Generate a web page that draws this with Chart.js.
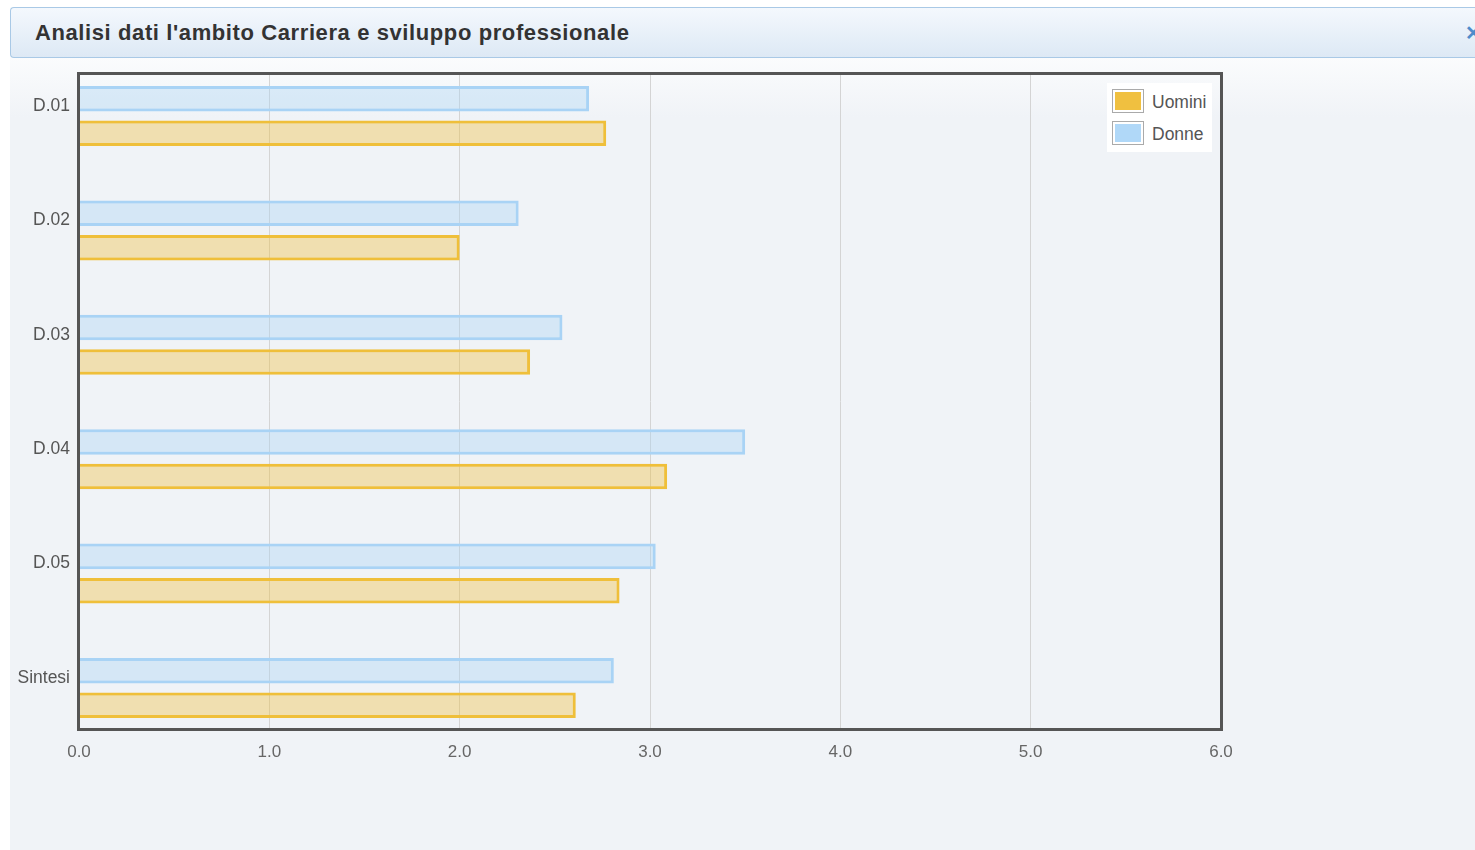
<!DOCTYPE html>
<html>
<head>
<meta charset="utf-8">
<script src="https://cdn.jsdelivr.net/npm/chart.js@4"></script>
<style>
  body { margin: 0; width: 1475px; height: 850px; overflow: hidden; background: #fff; position: relative; font-family: "Liberation Sans", Arial, sans-serif; }
  #panel { position: absolute; left: 10px; top: 7px; width: 1465px; height: 843px; background: linear-gradient(#fbfcfd 50px, #f0f3f7 110px); }
  #titlebar { position: absolute; left: 10px; top: 7px; width: 1465px; height: 49px; background: linear-gradient(#f4f8fd, #dde9f5); border: 1px solid #a9c9e6; border-right: none; border-radius: 4px 0 0 4px; }
  #title { position: absolute; left: 24px; top: 12px; font-size: 22px; font-weight: bold; letter-spacing: 0.6px; color: #333; }
  #close { position: absolute; left: 1454px; top: 13px; font-size: 20px; font-weight: bold; color: #4f8ccb; }
  #chart { position: absolute; left: 0; top: 0; }
  #frame { position: absolute; left: 77px; top: 72px; width: 1140px; height: 653px; border: 3px solid #555; pointer-events: none; }
  #legend { position: absolute; left: 1107px; top: 83px; width: 105px; padding: 2px 0 3px 0; background: #fff; font-size: 17.5px; color: #555; }
  .item { display: flex; align-items: center; height: 32px; }
  .swatch { width: 30px; height: 22px; margin: 0 8px 0 5px; border: 1px solid #aaa; box-shadow: inset 0 0 0 2px #fff; }
  .label { position: relative; top: 1px; }
</style>
</head>
<body>
<div id="panel"></div>
<div id="titlebar"><span id="title">Analisi dati l'ambito Carriera e sviluppo professionale</span><span id="close">✕</span></div>
<canvas id="chart" width="1475" height="850"></canvas>
<div id="frame"></div>
<div id="legend"></div>
<script>
// dati
const categories = ["D.01", "D.02", "D.03", "D.04", "D.05", "Sintesi"];
const donne = [2.68, 2.31, 2.54, 3.50, 3.03, 2.81];
const uomini = [2.77, 2.00, 2.37, 3.09, 2.84, 2.61];
const xTicks = [0, 1, 2, 3, 4, 5, 6];

const ctx = document.getElementById("chart").getContext("2d");
const chart = new Chart(ctx, {
  type: "bar",
  data: {
    datasets: [
      {
        label: "Donne",
        data: donne.map((v, i) => ({ x: v, y: i })),
        backgroundColor: "rgba(169, 211, 245, 0.37)",
        borderColor: "#a9d3f5",
        borderWidth: 3,
        swatch: "#b0d8f8"
      },
      {
        label: "Uomini",
        data: uomini.map((v, i) => ({ x: v, y: i })),
        backgroundColor: "rgba(240, 192, 60, 0.38)",
        borderColor: "#efbf3a",
        borderWidth: 3,
        swatch: "#f0c040"
      }
    ]
  },
  options: {
    indexAxis: "y",
    responsive: false,
    animation: false,
    categoryPercentage: 0.603,
    barPercentage: 0.74,
    layout: { padding: { left: 0, top: 73, right: 254, bottom: 80 } },
    plugins: {
      legend: { display: false },
      tooltip: { enabled: false }
    },
    scales: {
      x: {
        type: "linear",
        min: 0,
        max: 6,
        afterBuildTicks: s => { s.ticks = xTicks.map(v => ({ value: v })); },
        afterFit: s => { s.height = 40; },
        ticks: {
          callback: v => v.toFixed(1),
          color: "#666",
          font: { family: "Liberation Sans", size: 17 },
          padding: 12
        },
        grid: { color: "#d4d4d4", drawTicks: false },
        border: { display: false }
      },
      y: {
        type: "linear",
        reverse: true,
        offset: false,
        min: -0.376,
        max: 5.367,
        afterBuildTicks: s => { s.ticks = categories.map((c, i) => ({ value: i })); },
        afterFit: s => { s.width = 79; },
        ticks: {
          callback: v => categories[v],
          color: "#555",
          font: { family: "Liberation Sans", size: 17.5 },
          labelOffset: -10,
          padding: 9
        },
        grid: { display: false, offset: false, drawTicks: false },
        border: { display: false }
      }
    }
  }
});

// legenda html (Uomini prima)
const legend = document.getElementById("legend");
chart.data.datasets.slice().reverse().forEach(ds => {
  const row = document.createElement("div");
  row.className = "item";
  const sw = document.createElement("div");
  sw.className = "swatch";
  sw.style.background = ds.swatch;
  row.appendChild(sw);
  const lab = document.createElement("span");
  lab.className = "label";
  lab.textContent = ds.label;
  row.appendChild(lab);
  legend.appendChild(row);
});
</script>
</body>
</html>
